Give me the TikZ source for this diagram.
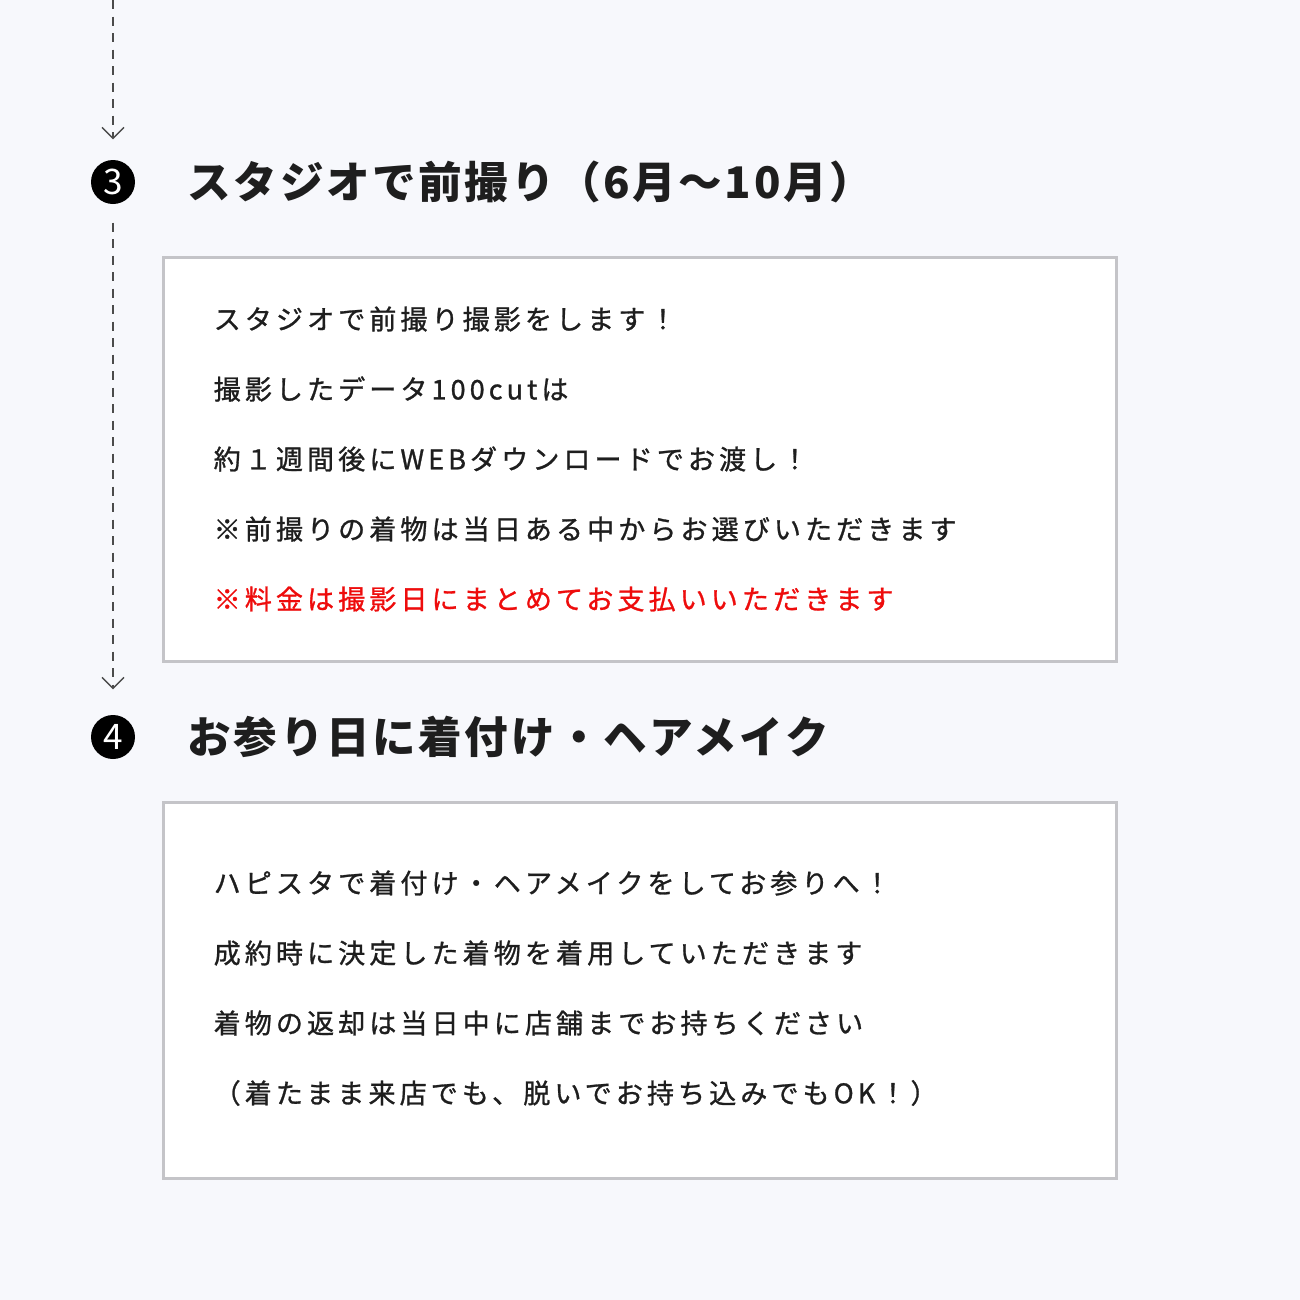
\documentclass[tikz,border=0pt]{standalone}
\usepackage{fontspec}
\usetikzlibrary{arrows.meta}
\setmainfont{Noto Sans CJK JP}
\newfontfamily\jpbody[LetterSpace=15,FakeBold=1]{Noto Sans CJK JP}
\newfontfamily\jphead[LetterSpace=6]{Noto Sans CJK JP}
\definecolor{pagebg}{RGB}{247,248,252}
\definecolor{ink}{RGB}{30,30,30}
\definecolor{boxline}{RGB}{196,196,200}
\definecolor{alert}{RGB}{238,12,12}
\tikzset{
  stepnum/.style={circle, fill=black, text=white, minimum size=4.4mm, inner sep=0pt,
    font=\fontsize{10}{10}\selectfont},
  steptitle/.style={anchor=west, inner sep=0pt, text=ink,
    font=\jphead\bfseries\fontsize{12.4}{14}\selectfont},
  infobox/.style={draw=boxline, line width=0.3mm, fill=white, anchor=north west,
    minimum width=95.3mm, inner sep=0pt},
  infoline/.style={anchor=west, inner sep=0pt, text=ink,
    font=\jpbody\fontsize{7.7}{9}\selectfont},
  flow/.style={draw=ink!80, line width=0.13mm, dash pattern=on 0.9mm off 0.75mm,
    -{Straight Barb[length=1.1mm,width=2.2mm]}}
}
\begin{document}
\begin{tikzpicture}[x=0.1mm,y=-0.1mm]
   \fill[pagebg] (0,0) rectangle (1300,1300);
   \useasboundingbox (0,0) rectangle (1300,1300);
   % step 3
   \node[stepnum] (n3) at (113,182) {3};
   \node[steptitle] (t3) at (187,182) {スタジオで前撮り（6月〜10月）};
   \node[infobox, minimum height=40.4mm] (box3) at (162,256) {};
   \foreach \txt [count=\i] in {スタジオで前撮り撮影をします！,
       撮影したデータ100cutは,
       約１週間後にWEBダウンロードでお渡し！,
       ※前撮りの着物は当日ある中からお選びいただきます} {
     \node[infoline] (l3-\i) at (213,249+70*\i) {\txt};
   }
   \node[infoline, text=alert] (l3-5) at (213,599) {※料金は撮影日にまとめてお支払いいただきます};
   % step 4
   \node[stepnum] (n4) at (113,737) {4};
   \node[steptitle] (t4) at (187,737) {お参り日に着付け・ヘアメイク};
   \node[infobox, minimum height=37.6mm] (box4) at (162,801) {};
   \foreach \txt [count=\i] in {ハピスタで着付け・ヘアメイクをしてお参りへ！,
       成約時に決定した着物を着用していただきます,
       着物の返却は当日中に店舗までお持ちください,
       （着たまま来店でも、脱いでお持ち込みでもOK！）} {
     \node[infoline] (l4-\i) at (213,813+70*\i) {\txt};
   }
   % flow
   \coordinate (top) at (113,0);
   \draw[flow, shorten >=2mm] (top) -- (n3);
   \draw[flow, shorten <=1.8mm, shorten >=2.5mm] (n3) -- (n4);
\end{tikzpicture}
\end{document}
